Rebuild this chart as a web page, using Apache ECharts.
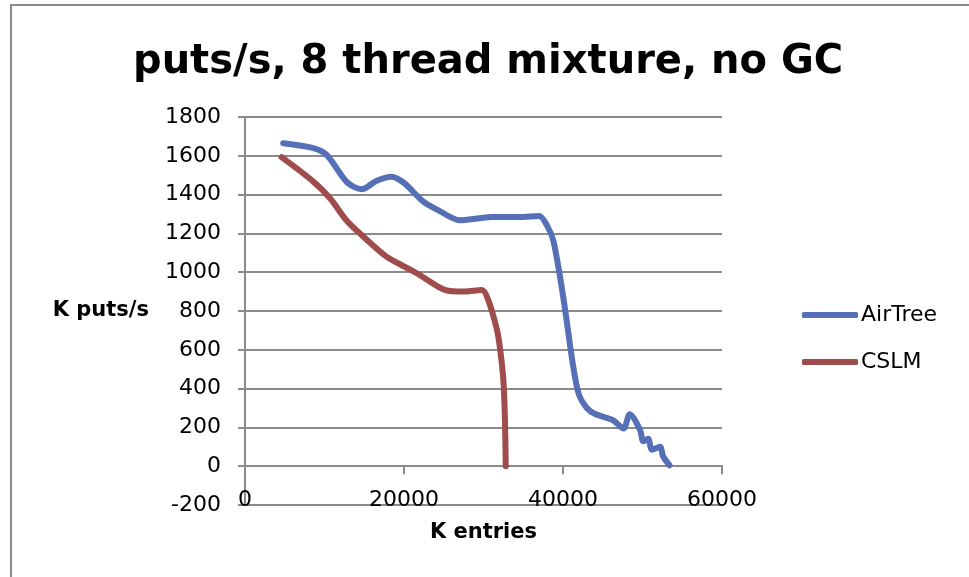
<!DOCTYPE html>
<html>
<head>
<meta charset="utf-8">
<script src="https://cdn.jsdelivr.net/npm/echarts@6/dist/echarts.min.js"></script>
<style>
  html, body { margin: 0; padding: 0; background: #fff; }
  #chart { width: 969px; height: 577px; }
</style>
</head>
<body>
<div id="chart"></div>
<script>
// values
const seriesNames = ['AirTree', 'CSLM'];
const airTreeX = [4800, 8600, 10300, 12800, 14700, 16500, 18400, 20000, 22400, 24500, 27000, 29500, 31000, 34500, 37000, 38000, 38800, 40000, 41300, 42000, 43000, 44000, 46300, 47600, 48400, 49700, 50100, 50700, 51200, 52200, 52600, 53400];
const airTreeY = [1665, 1640, 1604, 1465, 1428, 1470, 1492, 1460, 1365, 1315, 1268, 1278, 1284, 1284, 1290, 1240, 1160, 880, 510, 370, 300, 270, 237, 194, 268, 186, 128, 142, 85, 100, 50, 5];
const cslmX = [4600, 8600, 10700, 12800, 14900, 17800, 20000, 22000, 25200, 27500, 29800, 30600, 31700, 32100, 32500, 32700, 32800];
const cslmY = [1593, 1467, 1381, 1265, 1183, 1080, 1030, 985, 908, 900, 908, 856, 702, 600, 444, 237, 0];
const xTicks = { min: 0, max: 60000, interval: 20000 };
const yTicks = { min: -200, max: 1800, interval: 200 };

const zip = (xs, ys) => xs.map((x, i) => [x, ys[i]]);
const plain = (v) => String(v);

const gridGray = '#8a8a8a';
const font = 'DejaVu Sans';
const colors = ['#5570b7', '#9e4c4c'];

let myChart = echarts.init(document.getElementById('chart'));
const option = {
  animation: false,
  color: colors,
  title: {
    text: 'puts/s, 8 thread mixture, no GC',
    left: 128,
    top: 38,
    textStyle: { fontFamily: font, fontWeight: 'bold', fontSize: 40, color: '#000' },
  },
  graphic: [
    {
      type: 'polyline',
      shape: { points: [[11, 600], [11, 5], [980, 5]] },
      style: { stroke: gridGray, lineWidth: 2, fill: null },
      silent: true,
    },
  ],
  legend: {
    orient: 'vertical',
    left: 797,
    top: 299,
    itemWidth: 56,
    itemHeight: 6,
    itemGap: 25,
    icon: 'roundRect',
    textStyle: { fontFamily: font, fontSize: 22, color: '#000', padding: [0, 0, 0, -2] },
    data: seriesNames,
  },
  grid: { left: 245, right: 247, top: 117, bottom: 72 },
  xAxis: [
    {
      type: 'value',
      min: xTicks.min,
      max: xTicks.max,
      interval: xTicks.interval,
      axisLine: { onZero: true, lineStyle: { color: gridGray, width: 2 } },
      axisTick: { show: true, length: 8, lineStyle: { color: gridGray, width: 2 } },
      axisLabel: { show: false },
      splitLine: { show: false },
    },
    {
      type: 'value',
      position: 'bottom',
      min: xTicks.min,
      max: xTicks.max,
      interval: xTicks.interval,
      axisLine: { show: false, onZero: false },
      axisTick: { show: false },
      splitLine: { show: false },
      axisLabel: {
        fontFamily: font, fontSize: 22, color: '#000',
        verticalAlign: 'middle', margin: -5, formatter: plain,
      },
      name: 'K entries',
      nameLocation: 'middle',
      nameGap: 28,
      nameTextStyle: { fontFamily: font, fontWeight: 'bold', fontSize: 21, color: '#000', verticalAlign: 'middle' },
    },
  ],
  yAxis: {
    type: 'value',
    min: yTicks.min,
    max: yTicks.max,
    interval: yTicks.interval,
    axisLine: { show: true, onZero: false, lineStyle: { color: gridGray, width: 2 } },
    axisTick: { show: true, length: 7, lineStyle: { color: gridGray, width: 2 } },
    splitLine: { show: true, lineStyle: { color: gridGray, width: 2 } },
    axisLabel: { fontFamily: font, fontSize: 22, color: '#000', margin: 24, formatter: plain },
    name: 'K puts/s',
    nameLocation: 'middle',
    nameRotate: 0,
    nameGap: 96,
    nameTextStyle: { fontFamily: font, fontWeight: 'bold', fontSize: 21, color: '#000', align: 'right', verticalAlign: 'middle' },
  },
  series: [
    {
      name: seriesNames[0],
      type: 'line',
      xAxisIndex: 0,
      data: zip(airTreeX, airTreeY),
      smooth: 0.3,
      symbol: 'none',
      lineStyle: { width: 6, cap: 'round', join: 'round' },
    },
    {
      name: seriesNames[1],
      type: 'line',
      xAxisIndex: 0,
      data: zip(cslmX, cslmY),
      smooth: 0.3,
      symbol: 'none',
      lineStyle: { width: 6, cap: 'round', join: 'round' },
    },
  ],
};
myChart.setOption(option);
</script>
</body>
</html>
